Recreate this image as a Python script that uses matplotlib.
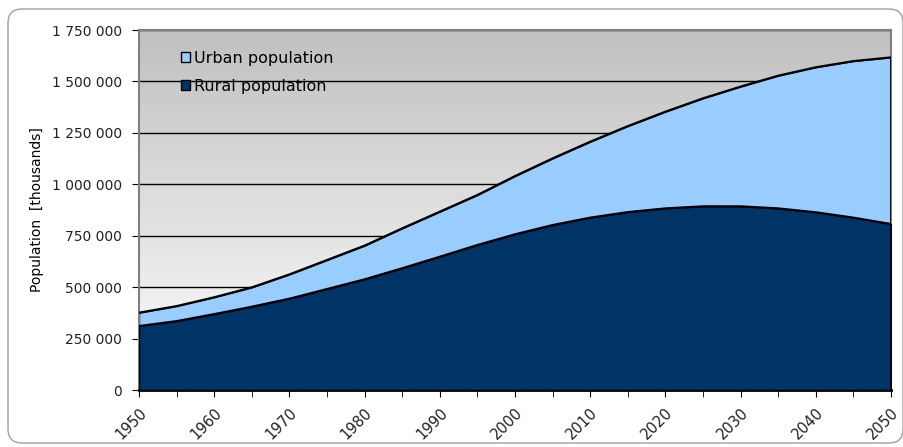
# Urban and rural population, stacked area chart, 1950-2050

import matplotlib.pyplot as plt
import numpy as np
from matplotlib.patches import FancyBboxPatch
from matplotlib.transforms import IdentityTransform
from matplotlib.colors import LinearSegmentedColormap
from matplotlib.ticker import FuncFormatter, MultipleLocator

# Data (thousands)
years = [1950, 1955, 1960, 1965, 1970, 1975, 1980, 1985, 1990, 1995, 2000,
         2005, 2010, 2015, 2020, 2025, 2030, 2035, 2040, 2045, 2050]

rural = [311, 335, 369, 405, 444, 491, 538, 592, 648, 705, 757,
         802, 838, 865, 883, 893, 893, 883, 864, 838, 807]
total = [376, 408, 451, 499, 562, 632, 702, 786, 867, 948, 1040,
         1126, 1207, 1283, 1353, 1418, 1475, 1528, 1569, 1599, 1617]

rural = [v * 1000 for v in rural]
total = [v * 1000 for v in total]

fig = plt.figure(figsize=(9.04, 4.47), dpi=100)
fig.patch.set_facecolor("white")

# rounded chart border (pixel coords)
border = FancyBboxPatch((8, 4), 895, 434,
                        boxstyle="round,pad=0,rounding_size=14",
                        transform=IdentityTransform(), facecolor="none",
                        edgecolor="#a0a0a0", linewidth=1.0)
fig.patches.append(border)

ax = fig.add_axes([139 / 904, 57 / 447, 752 / 904, 360 / 447])

# gradient background of the plot area
grad = np.linspace(0, 1, 256).reshape(-1, 1)
bg = LinearSegmentedColormap.from_list("bg", ["white", "#c0c0c0"])
ax.imshow(grad, cmap=bg, aspect="auto", origin="lower",
          extent=[1950, 2050, 0, 1750000], zorder=0)

ax.set_xlim(1950, 2050)
ax.set_ylim(0, 1750000)

for y in range(250000, 1750001, 250000):
    ax.axhline(y, color="black", linewidth=1.0, zorder=1)

ax.fill_between(years, rural, total, color="#99ccff", zorder=2,
                label="Urban population")
ax.fill_between(years, 0, rural, color="#003366", zorder=3,
                label="Rural population")
ax.plot(years, total, color="black", linewidth=1.5, zorder=4)
ax.plot(years, rural, color="black", linewidth=1.5, zorder=4)
ax.plot([2050, 2050], [0, total[-1]], color="black", linewidth=2, zorder=4,
        solid_capstyle="butt")

# axes
ax.yaxis.set_major_locator(MultipleLocator(250000))
ax.yaxis.set_major_formatter(FuncFormatter(lambda v, p: f"{v:,.0f}".replace(",", " ")))
ax.xaxis.set_major_locator(MultipleLocator(10))
ax.xaxis.set_minor_locator(MultipleLocator(5))
ax.tick_params(axis="y", labelsize=10, length=5, color="black",
               labelcolor="#222222", pad=7)
ax.tick_params(axis="x", which="both", length=5, color="black")
ax.tick_params(axis="x", labelsize=10.5, labelcolor="#222222", pad=6)
plt.setp(ax.get_xticklabels(), rotation=45, ha="right", rotation_mode="anchor")

for s in ["top", "right", "left"]:
    ax.spines[s].set_color("#808080")
    ax.spines[s].set_linewidth(1.5)
ax.spines["bottom"].set_color("black")
ax.spines["bottom"].set_linewidth(2)

ax.set_ylabel("Population  [thousands]", fontsize=10, labelpad=6)

# legend
handles, labels = ax.get_legend_handles_labels()
for h in handles:
    h.set_edgecolor("black")
    h.set_linewidth(1)
leg = ax.legend(handles, labels, loc="upper left", bbox_to_anchor=(0.047, 0.96),
                frameon=False, fontsize=11.5, handlelength=0.55, handleheight=0.6,
                handletextpad=0.25, labelspacing=0.8, borderaxespad=0)

fig.savefig("out.png", dpi=100)
